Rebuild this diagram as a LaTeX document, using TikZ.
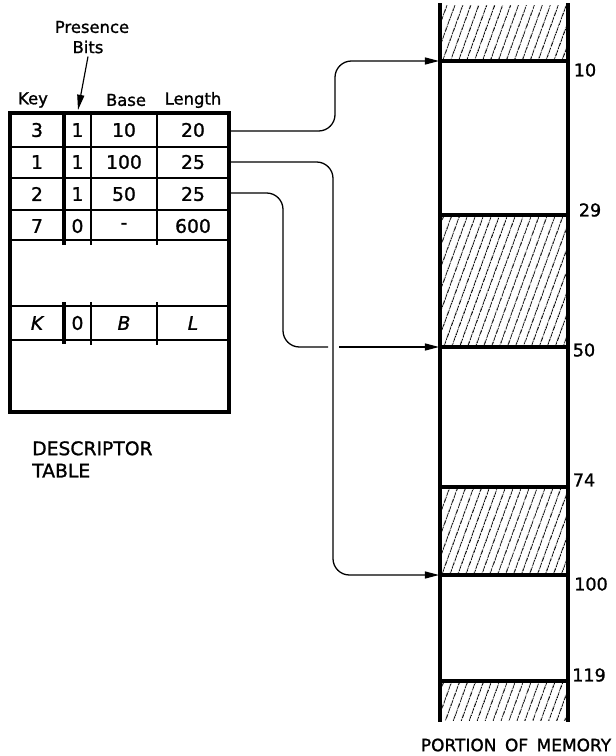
\documentclass[tikz,border=0pt]{standalone}
\usepackage{fontspec}
\setmainfont[FakeBold=1.2, AutoFakeBold=1.2]{DejaVu Sans}
\usetikzlibrary{positioning, arrows.meta, patterns.meta, calc}

\begin{document}
\begin{tikzpicture}[
        x=0.03cm, y=-0.03cm,
        heavy/.style={line width=3.2pt},
        light/.style={line width=1pt},
        cell/.style={font=\fontsize{16}{18}\selectfont\bfseries, inner sep=0pt},
        head/.style={font=\fontsize{14}{16}\selectfont\bfseries, inner sep=0pt},
        caption/.style={font=\fontsize{16}{19}\selectfont\bfseries, align=left, inner sep=0pt},
        addr/.style={font=\fontsize{15}{17}\selectfont\bfseries, inner sep=0pt},
        link/.style={line width=1.1pt, rounded corners=14pt},
        tip/.style={-{Triangle[length=12pt, width=6pt]}},
        hatch/.style={pattern={Lines[angle=70, distance=6.5pt, line width=0.75pt]}},
    ]
    \useasboundingbox (0,0) rectangle (615,756);

    % === DESCRIPTOR TABLE ===
    \node[head] (presence) at (92,27) {Presence};
    \node[head] (bits) at (88,47) {Bits};
    \node[head] (hkey) at (33,100) {Key};
    \node[head] (hbase) at (126,100) {Base};
    \node[head] (hlength) at (193,100) {Length};
    \coordinate (pbit) at (78,110);
    \draw[line width=1pt, -{Triangle[length=13pt, width=6pt]}] (bits.south) ++(0,3) coordinate (ptail) -- (pbit);

    % Rows
    \foreach \k/\p/\b/\l [count=\i] in {3/1/10/20, 1/1/100/25, 2/1/50/25, 7/0/-/600} {
        \node[cell] (key\i) at (37, 98+32*\i) {\k};
        \node[cell] (bit\i) at (77.5, 98+32*\i) {\p};
        \node[cell] (base\i) at (124, 98+32*\i) {\b};
        \node[cell] (len\i) at (193, 98+32*\i) {\l};
    }
    \node[cell] (keyK) at (37,323) {\itshape K};
    \node[cell] (bitK) at (77.5,323) {0};
    \node[cell] (baseK) at (124,323) {\itshape B};
    \node[cell] (lenK) at (193,323) {\itshape L};

    % Rules
    \foreach \y in {147,178,210,240,306,340}
        \draw[light] (10,\y) -- (229,\y);
    \foreach \x in {91,157} {
        \draw[light] (\x,113) -- (\x,245);
        \draw[light] (\x,302) -- (\x,345);
    }
    \draw[heavy] (64,113) -- (64,245);
    \draw[heavy] (64,302) -- (64,344);
    \draw[heavy] (10,113) rectangle (229,412);

    \node[caption, anchor=north west] (dtable) at (32,441) {DESCRIPTOR\\TABLE};

    % === MEMORY ===
    \foreach \a/\b in {5/61, 215/347, 487/575, 681/720}
        \fill[hatch] (440,\a) rectangle (568,\b);
    \foreach \y in {61,215,347,487,575,681}
        \draw[heavy] (440,\y) -- (568,\y);
    \draw[heavy] (440,3) -- (440,722);
    \draw[heavy] (568,3) -- (568,722);

    \node[addr] (a10) at (585,70) {10};
    \node[addr] (a29) at (590,210) {29};
    \node[addr] (a50) at (584,350) {50};
    \node[addr] (a74) at (584,480) {74};
    \node[addr] (a100) at (591,584) {100};
    \node[addr] (a119) at (589,675) {119};

    \node[addr, font=\fontsize{14.5}{17}\selectfont\bfseries] (portion) at (516,745) {PORTION\hspace{0.5em}OF\hspace{0.5em}MEMORY};

    % === POINTERS ===
    \coordinate (out1) at (229,131);
    \coordinate (out2) at (229,162);
    \coordinate (out3) at (229,193);
    \coordinate (m10) at (439,61);
    \coordinate (m50) at (439,347);
    \coordinate (m100) at (439,575);
    \coordinate (bend1) at (335,100);
    \coordinate (bend2) at (333,400);
    \coordinate (bend3) at (283,270);
    \coordinate (gapL) at (328,347);
    \coordinate (gapR) at (339,347);

    \draw[link, tip] (out1) -| (bend1) |- (m10);
    \draw[link, tip] (out2) -| (bend2) |- (m100);
    \draw[link] (out3) -| (bend3) |- (gapL);
    \draw[link, tip] (gapR) -- (m50);

\end{tikzpicture}
\end{document}
